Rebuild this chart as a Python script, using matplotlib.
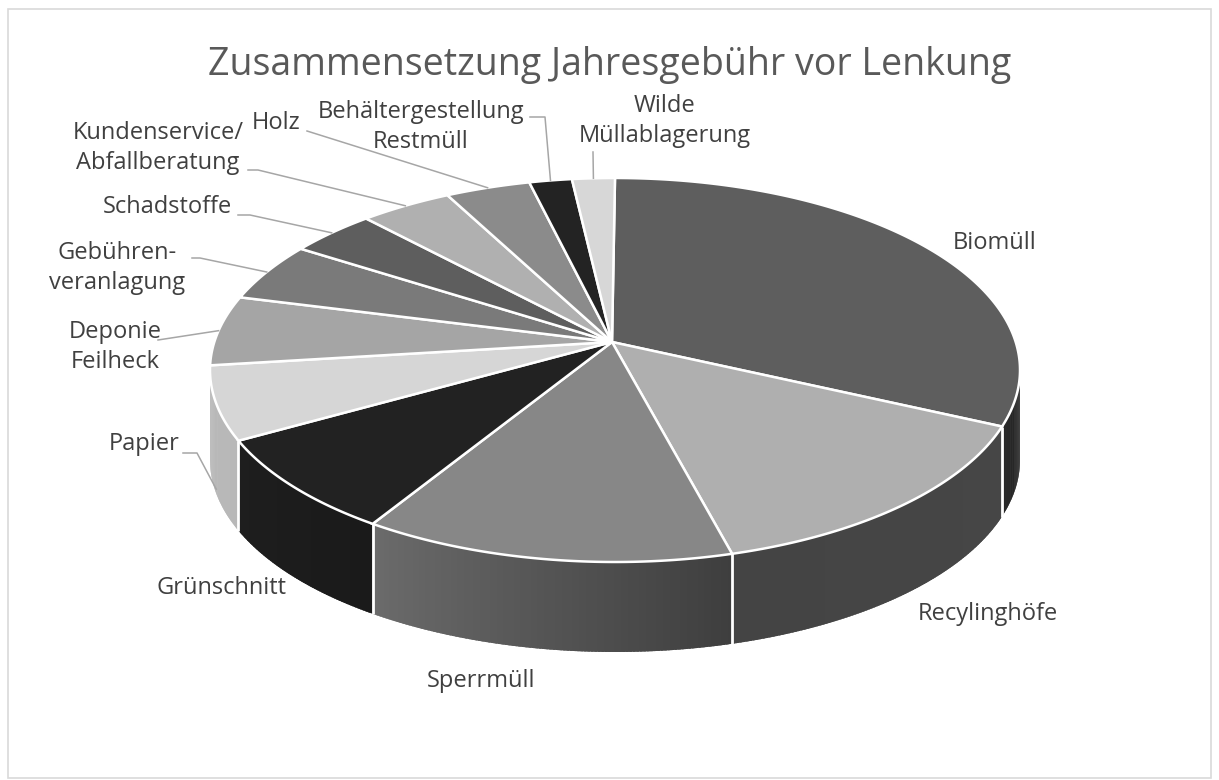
import numpy as np
import matplotlib.pyplot as plt
from matplotlib.patches import Polygon, Rectangle

plt.rcParams['font.family'] = ['Open Sans', 'DejaVu Sans']

# data (share in %), clockwise from 12 o'clock
labels = ['Biomüll', 'Recylinghöfe', 'Sperrmüll', 'Grünschnitt', 'Papier',
          'Deponie\nFeilheck', 'Gebühren-\nveranlagung', 'Schadstoffe',
          'Kundenservice/\nAbfallberatung', 'Holz',
          'Behältergestellung\nRestmüll', 'Wilde\nMüllablagerung']
values = [29.8, 15.6, 14.9, 8.8, 6.4, 5.8, 4.7, 3.6, 3.75, 3.4, 1.7, 1.7]

top_colors = ['#5e5e5e', '#afafaf', '#878787', '#222222', '#d6d6d6', '#a5a5a5',
              '#7a7a7a', '#5e5e5e', '#b0b0b0', '#8b8b8b', '#232323', '#d7d7d7']
side_colors = [('#2a2a2a', '#262626'), ('#464646', '#444444'), ('#3e3e3e', '#6b6b6b'),
               ('#1a1a1a', '#1e1e1e'), ('#b8b8b8', '#b8b8b8')] + [None] * 7

# label layout in pixels: text centre, leader start, stub length, drop onto side wall
label_pos = [(995, 243), (988, 614), (481, 681), (221, 588), (144, 444),
             (115, 347), (117, 268), (167, 207), (158, 148), (276, 123),
             (421, 127), (665, 121)]
leader_start = [None, None, None, None, (183, 453), (158, 340), (192, 258),
                (238, 215), (248, 170), (307, 131), (530, 117), (593, 152)]
leader_stub = [0, 0, 0, 0, 14, 0, 8, 12, 10, 0, 15, 0]
leader_drop = [0, 0, 0, 0, 0.95, 0, 0, 0, 0, 0, 0, 0]

W, H = 1219, 780
CX, CY, RX, RY = 615, 370, 405, 192
APEX = (612, 342)
DEPTH = 90


def pt(deg):
    t = np.radians(deg)
    return CX + RX * np.sin(t), CY - RY * np.cos(t)


def mix(c1, c2, f):
    a = np.array([int(c1[i:i + 2], 16) for i in (1, 3, 5)]) / 255
    b = np.array([int(c2[i:i + 2], 16) for i in (1, 3, 5)]) / 255
    return tuple(a + (b - a) * f)


fig = plt.figure(figsize=(W / 100, H / 100), dpi=100)
ax = fig.add_axes([0, 0, 1, 1])
ax.set_xlim(0, W)
ax.set_ylim(H, 0)
ax.axis('off')

ax.add_patch(Rectangle((8, 9), 1203, 769, fill=False, ec='#d9d9d9', lw=1.2))

vals = np.array(values) / sum(values) * 360
ends = np.cumsum(vals)
starts = ends - vals

# side walls (front half only), drawn as thin strips for the gradient
for i in range(len(vals)):
    if side_colors[i] is None:
        continue
    a, b = max(starts[i], 90), min(ends[i], 270)
    if b <= a:
        continue
    steps = np.linspace(a, b, int((b - a) * 2) + 2)
    for k in range(len(steps) - 1):
        t0, t1 = steps[k], min(steps[k + 1] + 0.4, b)
        f = (0.5 * (t0 + t1) - a) / (b - a)
        c = mix(side_colors[i][0], side_colors[i][1], f)
        x0, y0 = pt(t0)
        x1, y1 = pt(t1)
        ax.add_patch(Polygon([(x0, y0), (x1, y1), (x1, y1 + DEPTH), (x0, y0 + DEPTH)],
                             closed=True, fc=c, ec='none', lw=0))
# white joints on the side wall
for e in list(starts) + [360]:
    if 90 < e < 270:
        x, y = pt(e)
        ax.plot([x, x], [y, y + DEPTH], color='white', lw=2, solid_capstyle='butt')

# top faces
for i in range(len(vals)):
    th = np.linspace(starts[i], ends[i], max(int(vals[i] * 2), 4))
    xs, ys = pt(th)
    poly = [APEX] + list(zip(xs, ys))
    ax.add_patch(Polygon(poly, closed=True, fc=top_colors[i], ec='white', lw=1.8,
                         joinstyle='miter'))

# labels and leader lines
for i, lab in enumerate(labels):
    ax.text(label_pos[i][0], label_pos[i][1], lab, ha='center', va='center',
            fontsize=17, color='#404040', multialignment='center', linespacing=1.3)
    if leader_start[i] is None:
        continue
    mid = 0.5 * (starts[i] + ends[i])
    ex, ey = pt(mid)
    ey += leader_drop[i] * DEPTH
    sx, sy = leader_start[i]
    ax.plot([sx, sx + leader_stub[i], ex], [sy, sy, ey], color='#a6a6a6', lw=1.1)

ax.text(610, 65, 'Zusammensetzung Jahresgebühr vor Lenkung', ha='center', va='center',
        fontsize=27, color='#595959')

fig.savefig('out.png', dpi=100)
